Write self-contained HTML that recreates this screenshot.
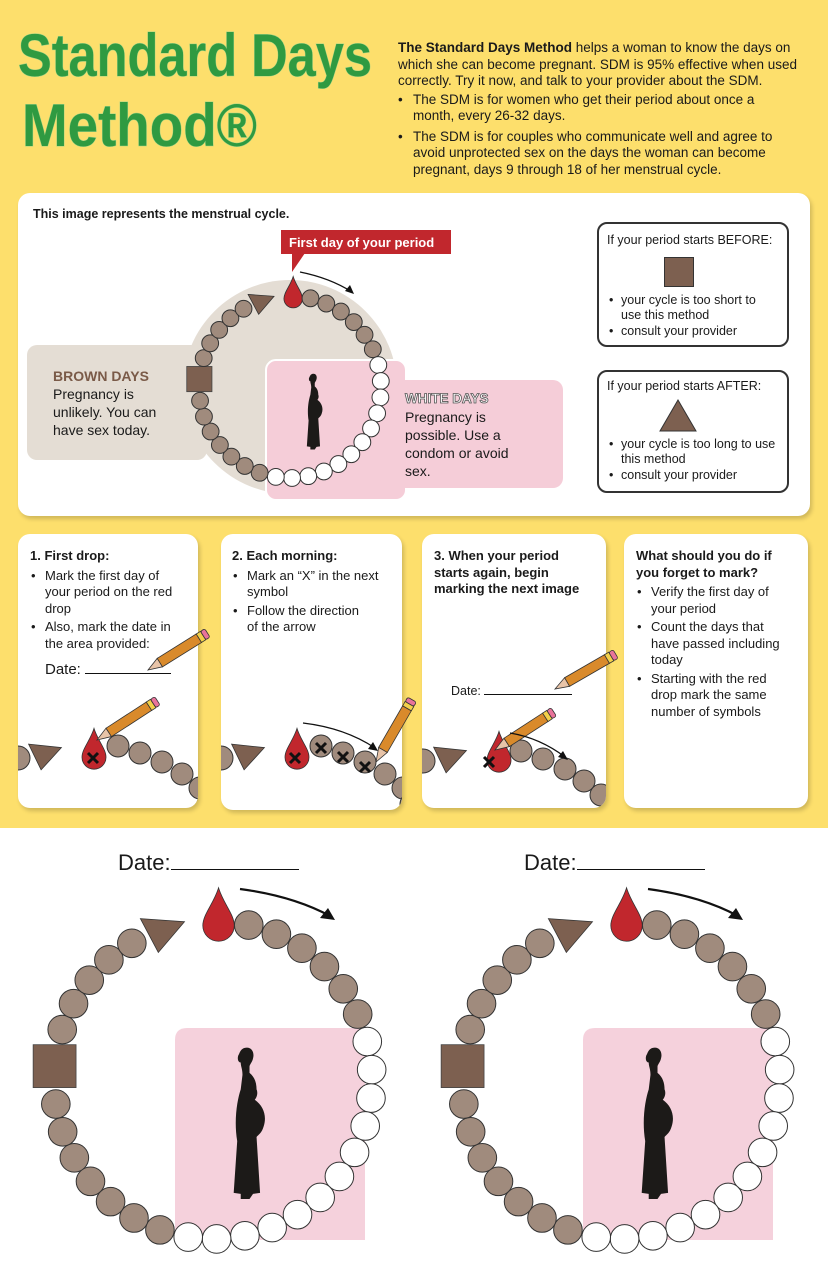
<!DOCTYPE html>
<html><head><meta charset="utf-8">
<style>
*{margin:0;padding:0;box-sizing:border-box}
body{width:828px;height:1272px;position:relative;background:#fff;font-family:"Liberation Sans",Arial,sans-serif;color:#1a1a1a;overflow:hidden}
.abs{position:absolute}
.yel{left:0;top:0;width:828px;height:828px;background:#fddf6c}
.card{background:#fff;border-radius:12px;box-shadow:2px 3px 4px rgba(0,0,0,.18)}
.intro{left:398px;top:40px;width:414px;font-size:13.5px;line-height:16.5px}
.intro ul{list-style:none;margin-top:2px;width:395px}
.intro li{position:relative;padding-left:15px;margin-bottom:4px}
.intro li:before{content:"•";position:absolute;left:0}
.bx{border:2px solid #333;border-radius:10px;background:#fff;font-size:12.5px;line-height:15.5px}
.bx ul{list-style:none}
.bx li{position:relative;padding-left:14px}
.bx li:before{content:"•";position:absolute;left:2px}
.step{font-size:13px;line-height:16.5px}
.step b{display:block;margin-bottom:3px}
.step ul{list-style:none}
.step li{position:relative;padding-left:15px;margin-bottom:2px}
.step li:before{content:"•";position:absolute;left:1px}
</style></head><body>
<div class="abs yel"></div>
<svg class="abs" style="left:0;top:0" width="400" height="180">
<g font-family="'Liberation Sans Narrow','Liberation Sans',sans-serif" font-weight="bold" font-size="60" fill="#2f9a41" stroke="#a8d486" stroke-width="1" paint-order="stroke">
<text x="18" y="76" textLength="354" lengthAdjust="spacingAndGlyphs">Standard Days</text>
<text x="22" y="146" textLength="235" lengthAdjust="spacingAndGlyphs">Method®</text>
</g></svg>
<div class="abs intro"><b>The Standard Days Method</b> helps a woman to know the days on which she can become pregnant. SDM is 95% effective when used correctly. Try it now, and talk to your provider about the SDM.
<ul><li>The SDM is for women who get their period about once a month, every 26-32 days.</li>
<li>The SDM is for couples who communicate well and agree to avoid unprotected sex on the days the woman can become pregnant, days 9 through 18 of her menstrual cycle.</li></ul></div>

<div class="abs card" style="left:18px;top:193px;width:792px;height:323px"></div>
<div class="abs" style="left:33px;top:207px;font-size:12.5px;font-weight:bold">This image represents the menstrual cycle.</div>

<svg class="abs" style="left:0;top:193px" width="600" height="323" viewBox="0 193 600 323" id="topsvg">
<rect x="27" y="345" width="180" height="115" rx="10" fill="#e4ddd4"/>
<circle cx="290" cy="387" r="107" fill="#e4ddd4"/>
<rect x="266" y="360" width="140" height="140" rx="10" fill="#f5cdd8" stroke="#fff" stroke-width="2"/>
<rect x="380" y="380" width="183" height="108" rx="10" fill="#f5cdd8"/>
<rect x="281" y="230" width="170" height="24" fill="#c1272d"/>
<polygon points="292,253 305,253 292,272" fill="#c1272d"/>
<text x="289" y="247" font-size="13" font-weight="bold" fill="#fff">First day of your period</text>
<path d="M300 272 Q330 278 352 292" stroke="#111" stroke-width="1.2" fill="none"/>
<polygon points="354,294 345,291 350,285" fill="#111"/>
<g id="c1"></g>
<text x="53" y="381" font-size="14" font-weight="bold" fill="#7a5a48">BROWN DAYS</text>
<text font-size="14" fill="#1a1a1a"><tspan x="53" y="399">Pregnancy is</tspan><tspan x="53" y="417">unlikely. You can</tspan><tspan x="53" y="435">have sex today.</tspan></text>
<text x="405" y="403" font-size="13.5" font-weight="bold" fill="#fff" stroke="#555" stroke-width=".8">WHITE DAYS</text>
<text font-size="14" fill="#1a1a1a"><tspan x="405" y="422">Pregnancy is</tspan><tspan x="405" y="440">possible. Use a</tspan><tspan x="405" y="458">condom or avoid</tspan><tspan x="405" y="476">sex.</tspan></text>
</svg>

<div class="abs bx" style="left:597px;top:222px;width:192px;height:125px;padding:9px 8px">If your period starts BEFORE:
<div style="width:30px;height:30px;background:#7d6050;border:1px solid #333;margin:8px 0 6px 57px"></div>
<ul><li>your cycle is too short to use this method</li><li>consult your provider</li></ul></div>
<div class="abs bx" style="left:597px;top:370px;width:192px;height:123px;padding:7px 8px">If your period starts AFTER:
<svg width="40" height="34" style="display:block;margin:4px 0 4px 52px"><polygon points="19,1 37,32 1,32" fill="#7d6050" stroke="#333"/></svg>
<ul><li>your cycle is too long to use this method</li><li>consult your provider</li></ul></div>

<div class="abs card" style="left:18px;top:534px;width:180px;height:274px"></div>
<div class="abs card" style="left:221px;top:534px;width:181px;height:276px"></div>
<div class="abs card" style="left:422px;top:534px;width:184px;height:274px"></div>
<div class="abs card" style="left:624px;top:534px;width:184px;height:274px"></div>

<div class="abs step" style="left:30px;top:548px;width:148px"><b>1. First drop:</b><ul><li>Mark the first day of your period on the red drop</li><li>Also, mark the date in the area provided:</li></ul></div>
<div class="abs" style="left:45px;top:661px;font-size:15px">Date: <span style="display:inline-block;width:86px;border-bottom:1px solid #111"></span></div>
<div class="abs step" style="left:232px;top:548px;width:160px"><b>2. Each morning:</b><ul><li>Mark an “X” in the next symbol</li><li>Follow the direction <br>of the arrow</li></ul></div>
<div class="abs step" style="left:434px;top:548px;width:158px"><b>3. When your period starts again, begin marking the next image</b></div>
<div class="abs" style="left:451px;top:684px;font-size:12.5px">Date: <span style="display:inline-block;width:88px;border-bottom:1px solid #111"></span></div>
<div class="abs step" style="left:636px;top:548px;width:155px"><b>What should you do if you forget to mark?</b><ul><li>Verify the first day of your period</li><li>Count the days that have passed including today</li><li>Starting with the red drop mark the same number of symbols</li></ul></div>

<svg class="abs" style="left:0;top:0" width="828" height="828" id="steps"></svg>

<div class="abs" style="left:118px;top:850px;font-size:22px">Date:<span style="display:inline-block;width:128px;border-bottom:1px solid #111"></span></div>
<div class="abs" style="left:524px;top:850px;font-size:22px">Date:<span style="display:inline-block;width:128px;border-bottom:1px solid #111"></span></div>
<svg class="abs" style="left:0;top:880px" width="828" height="392" viewBox="0 880 828 392" id="bot"></svg>

<script>
const NS="http://www.w3.org/2000/svg";
function el(p,tag,a){const e=document.createElementNS(NS,tag);for(const k in a)e.setAttribute(k,a[k]);p.appendChild(e);return e;}
const BR="#a08b7d",DK="#7d6050",RED="#c1272d";
function drop(g,x,y,s){
 el(g,"path",{d:`M${x} ${y-2.3*s} C${x+0.3*s} ${y-1.3*s} ${x+s} ${y-0.6*s} ${x+s} ${y+0.1*s} A${s} ${s} 0 0 1 ${x-s} ${y+0.1*s} C${x-s} ${y-0.6*s} ${x-0.3*s} ${y-1.3*s} ${x} ${y-2.3*s}Z`,fill:RED,stroke:"#333","stroke-width":0.8});
}
function tri(g,x,y,s,rot){
 el(g,"polygon",{points:`${-s},${-0.7*s} ${s},${-0.2*s} ${-0.45*s},${s}`,fill:DK,stroke:"#333","stroke-width":0.8,transform:`translate(${x},${y}) rotate(${rot||0})`});
}
function woman(g,x,y,h){
 const k=h/145;
 el(g,"path",{transform:`translate(${x},${y}) scale(${k*0.85},${k})`,fill:"#1c1a18",d:"M-2 0 C6 -2 10 4 8 10 C7 14 4 16 4 18 L4 24 C10 28 12 34 12 40 C14 44 12 48 10 50 C20 56 24 66 20 76 C18 82 14 84 12 86 L16 140 L8 141 L4 146 L-6 146 L-6 141 L-14 140 L-10 90 C-14 70 -10 50 -6 40 L-4 26 C-4 20 -6 18 -6 14 C-10 14 -10 8 -8 6 C-6 2 -5 1 -2 0Z"});
}
const A=[2];
for(let k=0;k<6;k++)A.push(13+k*10.5);
for(let k=0;k<12;k++)A.push(76+k*10.27);
for(let k=0;k<7;k++)A.push(199.5+k*10.3);
A.push(275);
for(let k=0;k<5;k++)A.push(288.5+k*10.2);
A.push(341);
function cycle2(g,cx,cy,r,br){
 for(let i=0;i<33;i++){
  const a=A[i]*Math.PI/180, x=cx+r*Math.sin(a), y=cy-r*Math.cos(a);
  if(i==0) drop(g,x,y+br*0.2,br*1.1);
  else if(i==26) el(g,"rect",{x:x-br*1.5,y:y-br*1.5,width:br*3,height:br*3,fill:DK,stroke:"#444","stroke-width":0.8});
  else if(i==32) tri(g,x+br*0.2,y,br*1.5,-10);
  else el(g,"circle",{cx:x,cy:y,r:br,fill:(i>=7&&i<=18)?"#fff":BR,stroke:"#333","stroke-width":1});
 }
}
const t=document.getElementById("c1");
cycle2(t,290,387,91,8.4);
woman(t,313,374,75);
const b=document.getElementById("bot");
for(const cx of [213,621]){
 const cy=1080;
 el(b,"path",{d:`M${cx-38} ${cy+160} L${cx-38} ${cy-40} Q${cx-38} ${cy-52} ${cx-26} ${cy-52} L${cx+152} ${cy-52} L${cx+152} ${cy+160}Z`,fill:"#f5d1dc"});
 cycle2(b,cx,cy,159,14.3);
 woman(b,cx+33,cy-32,150);
 el(b,"path",{d:`M${cx+27} ${cy-191} Q${cx+80} ${cy-184} ${cx+117} ${cy-164}`,stroke:"#111","stroke-width":2.2,fill:"none"});
 el(b,"polygon",{points:`${cx+122},${cy-160} ${cx+107},${cy-162} ${cx+115},${cy-172}`,fill:"#111"});
}
const s=document.getElementById("steps");
function pencil(g,x,y,len,ang){
 const p=el(g,"g",{transform:`translate(${x},${y}) rotate(${ang})`});
 el(p,"polygon",{points:`0,0 14,-5 14,5`,fill:"#e8c4a8",stroke:"#333","stroke-width":.8});
 el(p,"rect",{x:14,y:-5,width:len-24,height:10,fill:"#d98a2b",stroke:"#333","stroke-width":.8});
 el(p,"rect",{x:len-10,y:-5,width:5,height:10,fill:"#f2d04a",stroke:"#333","stroke-width":.8});
 el(p,"rect",{x:len-5,y:-5,width:5,height:10,rx:2,fill:"#e8739a",stroke:"#333","stroke-width":.8});
}
function xmark(g,x,y){el(g,"path",{d:`M${x-5} ${y-5}L${x+5} ${y+5}M${x+5} ${y-5}L${x-5} ${y+5}`,stroke:"#111","stroke-width":3});}
function chain(g,ox,oy,xs){
 const c=el(g,"g",{});
 el(c,"circle",{cx:ox-8,cy:oy+2,r:12,fill:BR,stroke:"#333"});
 tri(c,ox+20,oy-3,16,-8);
 drop(c,ox+68,oy,12);
 for(const [x,y] of xs) el(c,"circle",{cx:ox+x,cy:oy+y,r:11,fill:BR,stroke:"#333"});
 return c;
}
const clip1=el(s,"clipPath",{id:"k1"});el(clip1,"rect",{x:18,y:534,width:180,height:274,rx:12});
const clip2=el(s,"clipPath",{id:"k2"});el(clip2,"rect",{x:221,y:534,width:181,height:276,rx:12});
const clip3=el(s,"clipPath",{id:"k3"});el(clip3,"rect",{x:422,y:534,width:184,height:274,rx:12});
const pts=[[92,-10],[114,-3],[136,6],[156,18],[174,32],[182,48]];
const g1=el(s,"g",{"clip-path":"url(#k1)"});chain(g1,26,756,pts);xmark(g1,93,758);
const g2=el(s,"g",{"clip-path":"url(#k2)"});chain(g2,229,756,pts);xmark(g2,295,758);xmark(g2,321,748);xmark(g2,343,757);xmark(g2,365,767);
const g3=el(s,"g",{"clip-path":"url(#k3)"});chain(g3,431,759,[[90,-8],[112,0],[134,10],[153,22],[170,36]]);xmark(g3,489,762);
pencil(s,97,740,72,-33);pencil(s,148,670,70,-32);pencil(s,376,762,72,-60);pencil(s,555,689,70,-30);pencil(s,495,750,70,-33);
el(s,"path",{d:"M303 723 Q345 728 375 748",stroke:"#111","stroke-width":1.3,fill:"none"});
el(s,"polygon",{points:"378,751 368,749 373,742",fill:"#111"});
el(s,"path",{d:"M510 733 Q540 738 565 757",stroke:"#111","stroke-width":1.3,fill:"none"});
el(s,"polygon",{points:"568,760 558,757 563,751",fill:"#111"});
</script>
</body></html>
